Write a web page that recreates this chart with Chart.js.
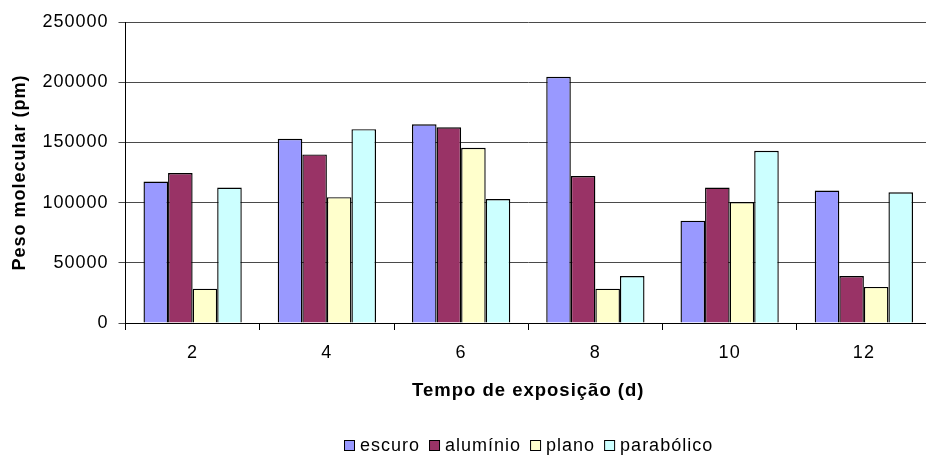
<!DOCTYPE html>
<html>
<head>
<meta charset="utf-8">
<script src="https://cdn.jsdelivr.net/npm/chart.js@4.4.1/dist/chart.umd.min.js"></script>
<style>
  html, body { margin: 0; padding: 0; background: #fff; overflow: hidden; }
  canvas { display: block; }
</style>
</head>
<body>
<canvas id="c" width="931" height="458"></canvas>
<script>
// Exposure time (days) on the x axis
const days = ['2', '4', '6', '8', '10', '12'];

// Molecular weight per treatment
const escuro     = [117500, 153000, 165000, 204500,  85000, 110000];
const aluminio   = [124500, 140000, 162500, 122000, 112500,  39000];
const plano      = [ 28500, 104500, 145500,  28500, 100500,  30000];
const parabolico = [112500, 161000, 103000,  39000, 143000, 108500];

const seriesNames  = ['escuro', 'alumínio', 'plano', 'parabólico'];
const seriesValues = [escuro, aluminio, plano, parabolico];
const seriesColors = ['#9999FF', '#993366', '#FFFFCC', '#CCFFFF'];

// Value axis range
const yMin = 0, yMax = 250000, yStep = 50000;

const FONT = '"Liberation Sans", Arial, sans-serif';

// Slightly open letter spacing for all canvas text
const spacing = {
  id: 'spacing',
  beforeUpdate(chart) { chart.ctx.letterSpacing = '1px'; },
  beforeDraw(chart) { chart.ctx.letterSpacing = '1px'; }
};

// Single-row legend centred under the plot area
const legendRow = {
  id: 'legendRow',
  afterDraw(chart) {
    const { ctx, chartArea } = chart;
    ctx.save();
    ctx.font = '18px ' + FONT;
    ctx.letterSpacing = '1px';
    ctx.textBaseline = 'middle';
    ctx.textAlign = 'left';
    const box = 10, gapText = 6, gapItem = 9;
    const items = chart.data.datasets.map(ds => ({
      label: ds.label,
      color: ds.backgroundColor,
      w: ctx.measureText(ds.label).width
    }));
    const total = items.reduce((s, it) => s + box + gapText + it.w, 0) + gapItem * (items.length - 1);
    let x = Math.round((chartArea.left + chartArea.right) / 2 - total / 2);
    const y = 446;
    items.forEach(it => {
      ctx.fillStyle = it.color;
      ctx.fillRect(x + 0.5, y - 5.5, box, box);
      ctx.strokeStyle = '#000';
      ctx.lineWidth = 1;
      ctx.strokeRect(x + 0.5, y - 5.5, box, box);
      ctx.fillStyle = '#000';
      ctx.fillText(it.label, x + box + gapText, y);
      x += box + gapText + it.w + gapItem;
    });
    ctx.restore();
  }
};

new Chart(document.getElementById('c'), {
  type: 'bar',
  data: {
    labels: days,
    datasets: seriesNames.map((name, i) => ({
      label: name,
      data: seriesValues[i],
      backgroundColor: seriesColors[i],
      borderColor: '#000',
      borderWidth: 1.4,
      categoryPercentage: 0.732,
      barPercentage: 1.0
    }))
  },
  options: {
    responsive: false,
    animation: false,
    events: [],
    layout: { padding: { top: 22, bottom: 56, left: 0, right: 0 } },
    plugins: {
      legend: { display: false },
      tooltip: { enabled: false }
    },
    scales: {
      x: {
        offset: true,
        grid: {
          offset: true,
          drawOnChartArea: false,
          drawTicks: true,
          tickLength: 7,
          tickColor: '#000',
          color: '#000'
        },
        border: { color: '#000', width: 1 },
        ticks: {
          color: '#000',
          padding: 12.5,
          font: { family: FONT, size: 18 }
        },
        title: {
          display: true,
          text: 'Tempo de exposição (d)',
          color: '#000',
          padding: { top: 0, bottom: 0 },
          font: { family: FONT, size: 18.5, weight: 'bold' }
        },
        afterFit(scale) { scale.height = 79; }
      },
      y: {
        min: yMin,
        max: yMax,
        grid: {
          color: '#4a4a4a',
          lineWidth: 1,
          tickLength: 7,
          tickColor: '#4a4a4a'
        },
        border: { color: '#000', width: 1 },
        ticks: {
          stepSize: yStep,
          color: '#000',
          padding: 10,
          font: { family: FONT, size: 18 },
          callback: v => String(v)
        },
        title: {
          display: true,
          text: 'Peso molecular (pm)',
          color: '#000',
          padding: { top: 9, bottom: 0 },
          font: { family: FONT, size: 18, weight: 'bold' }
        },
        afterFit(scale) { scale.width = 125.5; }
      }
    }
  },
  plugins: [spacing, legendRow]
});
</script>
</body>
</html>
